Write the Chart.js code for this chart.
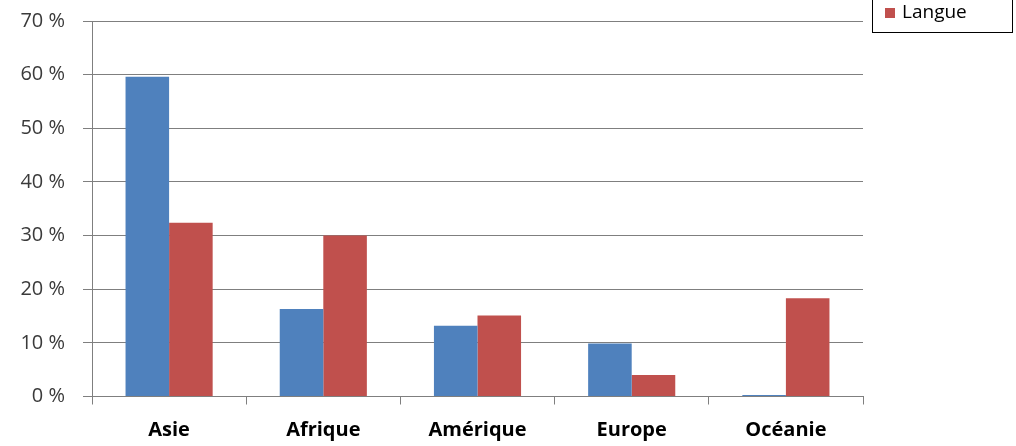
<!DOCTYPE html>
<html>
<head>
<meta charset="utf-8">
<script src="https://cdn.jsdelivr.net/npm/chart.js@4/dist/chart.umd.min.js"></script>
<style>
  html, body { margin: 0; padding: 0; background: #fff; }
  #wrap { width: 1016px; height: 446px; position: relative; }
</style>
</head>
<body>
<div id="wrap"><canvas id="c" width="1016" height="446"></canvas></div>
<script>
// Répartition par continent (en %)
const continents = ['Asie', 'Afrique', 'Amérique', 'Europe', 'Océanie'];
const population = [59.6, 16.3, 13.2, 9.9, 0.3];
const langue = [32.4, 30.0, 15.1, 4.0, 18.3];
const yTicks = [0, 10, 20, 30, 40, 50, 60, 70];

const BLUE = '#4F81BD';
const RED = '#C0504D';

// Legend box anchored at the top-right corner, entries stacked upward
const boxLegend = {
  id: 'boxLegend',
  afterDraw(chart) {
    const ctx = chart.ctx;
    const sets = chart.data.datasets;
    const left = 872.5, right = 1012.5, bottom = 32.5, rowH = 24;
    ctx.save();
    ctx.fillStyle = '#fff';
    ctx.fillRect(left, -40, right - left, bottom + 40);
    ctx.strokeStyle = '#000';
    ctx.lineWidth = 1;
    ctx.strokeRect(left, -40, right - left, bottom + 40);
    ctx.font = '19px "Open Sans", sans-serif';
    ctx.textBaseline = 'middle';
    sets.forEach((ds, i) => {
      const cy = 13 - (sets.length - 1 - i) * rowH;
      ctx.fillStyle = ds.backgroundColor;
      ctx.fillRect(885, cy - 5, 10, 10);
      ctx.fillStyle = '#000';
      ctx.fillText(ds.label, 902, cy);
    });
    ctx.restore();
  }
};

new Chart(document.getElementById('c'), {
  type: 'bar',
  data: {
    labels: continents,
    datasets: [
      { label: 'Population', data: population, backgroundColor: BLUE },
      { label: 'Langue', data: langue, backgroundColor: RED }
    ]
  },
  options: {
    responsive: false,
    animation: false,
    events: [],
    layout: { padding: { left: 0, right: 153, top: 21, bottom: 0 } },
    datasets: { bar: { categoryPercentage: 0.565, barPercentage: 1.0 } },
    plugins: {
      legend: { display: false },
      tooltip: { enabled: false }
    },
    scales: {
      x: {
        offset: true,
        grid: {
          offset: true,
          drawOnChartArea: false,
          drawTicks: true,
          tickLength: 8,
          color: '#7f7f7f'
        },
        border: { color: '#7f7f7f', width: 1 },
        ticks: {
          color: '#000',
          padding: 14,
          font: { family: '"Open Sans", sans-serif', size: 20, weight: 'bold' }
        },
        afterFit(scale) { scale.height = 49.5; }
      },
      y: {
        min: 0,
        max: 70,
        afterBuildTicks(scale) { scale.ticks = yTicks.map(v => ({ value: v })); },
        grid: {
          color: '#7f7f7f',
          drawTicks: true,
          tickLength: 9
        },
        border: { color: '#7f7f7f', width: 1 },
        ticks: {
          color: '#3a3a3a',
          padding: 18,
          font: { family: '"Open Sans", sans-serif', size: 20 },
          callback: v => v + ' %'
        },
        afterFit(scale) {
          scale.width = 92;
          scale.paddingTop = 0;
          scale.paddingBottom = 0;
        }
      }
    }
  },
  plugins: [boxLegend]
});
</script>
</body>
</html>
